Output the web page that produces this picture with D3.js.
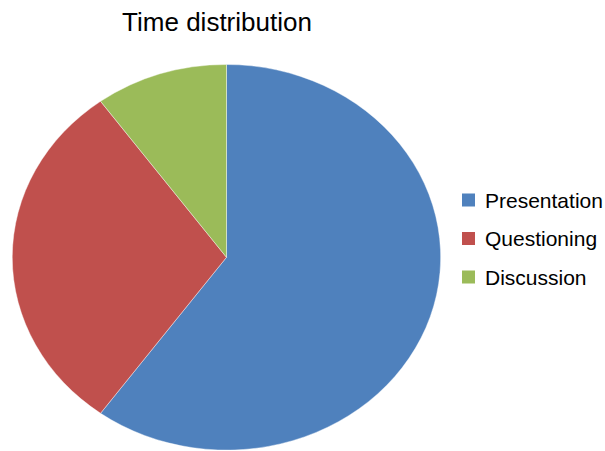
<!DOCTYPE html>
<html>
<head>
<meta charset="utf-8">
<script src="https://cdn.jsdelivr.net/npm/d3@7"></script>
<style>
	body { margin: 0; background: #fff; }
	text { font-family: "Liberation Sans", Arial, sans-serif; fill: #000; }
</style>
</head>
<body>
<div id="chart"></div>
<script>
// data
const categories = ["Presentation", "Questioning", "Discussion"];
const values = [60, 30, 10];
const colors = ["#4F81BD", "#C0504D", "#9BBB59"];

const width = 605;
const height = 451;

const svg = d3.select("#chart")
	.append("svg")
	.attr("width", width)
	.attr("height", height);

// title
svg.append("text")
	.attr("x", 217)
	.attr("y", 31)
	.attr("text-anchor", "middle")
	.style("font-size", "26px")
	.text("Time distribution");

// pie (drawn on a unit circle, then stretched into an ellipse)
const cx = 226.5, cy = 257.3, rx = 214.2, ry = 192.8;

const pie = d3.pie().sort(null).value(d => d);
const arc = d3.arc().innerRadius(0).outerRadius(1);

const colorScale = d3.scaleOrdinal().domain(categories).range(colors);

svg.append("g")
	.attr("transform", `translate(${cx},${cy}) scale(${rx},${ry})`)
	.selectAll("path")
	.data(pie(values))
	.join("path")
	.attr("d", arc)
	.attr("fill", (d, i) => colorScale(categories[i]))
	.attr("stroke", "#fff")
	.attr("stroke-width", 0.4)
	.attr("vector-effect", "non-scaling-stroke");

// legend
const legendY = d3.scalePoint().domain(categories).range([200, 277]);

const legend = svg.append("g")
	.selectAll("g")
	.data(categories)
	.join("g")
	.attr("transform", d => `translate(462,${legendY(d)})`);

legend.append("rect")
	.attr("x", 0)
	.attr("y", -6.5)
	.attr("width", 13)
	.attr("height", 13)
	.attr("fill", d => colorScale(d));

legend.append("text")
	.attr("x", 23)
	.attr("y", 7.5)
	.style("font-size", "21px")
	.text(d => d);
</script>
</body>
</html>
